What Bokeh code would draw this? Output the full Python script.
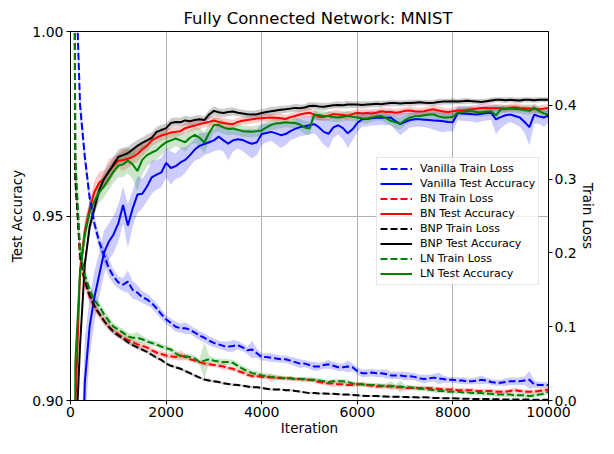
from bokeh.plotting import figure
from bokeh.models import (Range1d, LinearAxis, FixedTicker, PrintfTickFormatter,
                          Legend, LegendItem)
from bokeh.embed import file_html
from bokeh.resources import INLINE

# ---------------- data ----------------
iterations = list(range(0, 10001, 100))

x_ticks = [0, 2000, 4000, 6000, 8000, 10000]
acc_ticks = [0.90, 0.95, 1.00]
loss_ticks = [0.0, 0.1, 0.2, 0.3, 0.4]

# Test accuracy (left axis)
vanilla_acc = [
    0.10, 0.70, 0.86, 0.905, 0.920, 0.928, 0.934, 0.940, 0.943, 0.945,
    0.948, 0.953, 0.9474, 0.952, 0.9558, 0.9560, 0.9580, 0.9605, 0.9612, 0.9618,
    0.9644, 0.9630, 0.9635, 0.9645, 0.9652, 0.9665, 0.9680, 0.9690, 0.9695, 0.9700,
    0.9705, 0.9715, 0.9705, 0.9696, 0.9705, 0.9708, 0.9706, 0.9700, 0.9696, 0.9700,
    0.9722, 0.9725, 0.9728, 0.9724, 0.9719, 0.9722, 0.9730, 0.9736, 0.9741, 0.9743,
    0.9746, 0.9749, 0.9740, 0.9728, 0.9723, 0.9740, 0.9746, 0.9738, 0.9724, 0.9735,
    0.9752, 0.9762, 0.9763, 0.9765, 0.9766, 0.9767, 0.9766, 0.9767, 0.9757, 0.9749,
    0.9755, 0.9760, 0.9762, 0.9762, 0.9761, 0.9760, 0.9759, 0.9758, 0.9757, 0.9755,
    0.9754, 0.9779, 0.9778, 0.9777, 0.9776, 0.9775, 0.9777, 0.9779, 0.9780, 0.9762,
    0.9768, 0.9773, 0.9775, 0.9771, 0.9767, 0.9755, 0.9741, 0.9775, 0.9770, 0.9767,
    0.9772]
bn_acc = [
    0.10, 0.897, 0.935, 0.946, 0.952, 0.9565, 0.959, 0.960, 0.962, 0.9636,
    0.965, 0.9652, 0.9655, 0.966, 0.9668, 0.9680, 0.9690, 0.9705, 0.9712, 0.9718,
    0.9722, 0.9726, 0.9728, 0.9730, 0.9738, 0.9742, 0.9745, 0.9749, 0.9752, 0.9755,
    0.9759, 0.9755, 0.9752, 0.9750, 0.9749, 0.9755, 0.9758, 0.9760, 0.9762, 0.9764,
    0.9765, 0.9766, 0.9767, 0.9766, 0.9765, 0.9763, 0.9768, 0.9771, 0.9775, 0.9778,
    0.9780, 0.9774, 0.9769, 0.9768, 0.9772, 0.9776, 0.9775, 0.9774, 0.9772, 0.9776,
    0.9780, 0.9778, 0.9779, 0.9778, 0.9780, 0.9784, 0.9782, 0.9782, 0.9780, 0.9782,
    0.9785, 0.9786, 0.9784, 0.9783, 0.9784, 0.9787, 0.9789, 0.9786, 0.9783, 0.9782,
    0.9784, 0.9786, 0.9786, 0.9787, 0.9789, 0.9791, 0.9793, 0.9793, 0.9792, 0.9793,
    0.9792, 0.9791, 0.9794, 0.9795, 0.9793, 0.9792, 0.9791, 0.9790, 0.9789, 0.9791,
    0.9793]
bnp_acc = [
    0.10, 0.885, 0.915, 0.937, 0.947, 0.952, 0.957, 0.960, 0.962, 0.964,
    0.966, 0.9665, 0.967, 0.968, 0.9690, 0.9698, 0.9705, 0.9712, 0.9728, 0.9733,
    0.9738, 0.9752, 0.9755, 0.9754, 0.9759, 0.9757, 0.9760, 0.9762, 0.9760, 0.9775,
    0.9785, 0.9781, 0.9779, 0.9782, 0.9783, 0.9780, 0.9778, 0.9776, 0.9775, 0.9776,
    0.9779, 0.9782, 0.9784, 0.9786, 0.9788, 0.9789, 0.9791, 0.9793, 0.9792, 0.9794,
    0.9798, 0.9799, 0.9797, 0.9796, 0.9798, 0.9800, 0.9801, 0.9800, 0.9802, 0.9802,
    0.9802, 0.9801, 0.9802, 0.9803, 0.9804, 0.9803, 0.9805, 0.9806, 0.9806, 0.9805,
    0.9806, 0.9806, 0.9807, 0.9808, 0.9807, 0.9806, 0.9807, 0.9809, 0.9810, 0.9810,
    0.9811, 0.9810, 0.9811, 0.9812, 0.9811, 0.9810, 0.9809, 0.9811, 0.9813, 0.9815,
    0.9815, 0.9814, 0.9815, 0.9814, 0.9813, 0.9815, 0.9815, 0.9814, 0.9815, 0.9815,
    0.9815]
ln_acc = [
    0.10, 0.910, 0.935, 0.945, 0.951, 0.954, 0.9565, 0.958, 0.960, 0.962,
    0.9636, 0.9640, 0.9650, 0.9640, 0.9622, 0.9652, 0.9665, 0.9672, 0.9678, 0.9690,
    0.9700, 0.9705, 0.9710, 0.9705, 0.9700, 0.9712, 0.9720, 0.9712, 0.9699, 0.9725,
    0.9746, 0.9747, 0.9740, 0.9736, 0.9737, 0.9734, 0.9730, 0.9729, 0.9728, 0.9730,
    0.9732, 0.9740, 0.9747, 0.9751, 0.9752, 0.9754, 0.9753, 0.9752, 0.9748, 0.9740,
    0.9737, 0.9775, 0.9773, 0.9771, 0.9770, 0.9768, 0.9767, 0.9769, 0.9771, 0.9769,
    0.9767, 0.9765, 0.9764, 0.9767, 0.9770, 0.9771, 0.9765, 0.9758, 0.9754, 0.9750,
    0.9760, 0.9767, 0.9770, 0.9771, 0.9773, 0.9775, 0.9775, 0.9770, 0.9767, 0.9767,
    0.9769, 0.9780, 0.9782, 0.9784, 0.9784, 0.9782, 0.9781, 0.9783, 0.9784, 0.9773,
    0.9789, 0.9790, 0.9791, 0.9790, 0.9789, 0.9787, 0.9785, 0.9793, 0.9785, 0.9778,
    0.9776]

# spread of the accuracy runs (half width of the shaded band)
vanilla_acc_band = [
    0.0, 0.02, 0.02, 0.012, 0.008, 0.007, 0.006, 0.006, 0.005, 0.005,
    0.005, 0.005, 0.006, 0.005, 0.005, 0.004, 0.004, 0.0045, 0.004, 0.004,
    0.004, 0.0045, 0.0035, 0.004, 0.0035, 0.003, 0.003, 0.0035, 0.003, 0.003,
    0.003, 0.0035, 0.003, 0.0045, 0.003, 0.0025, 0.003, 0.0035, 0.004, 0.0035,
    0.003, 0.0025, 0.0025, 0.003, 0.0035, 0.003, 0.0025, 0.0025, 0.0025, 0.0025,
    0.0025, 0.0025, 0.003, 0.0035, 0.004, 0.0028, 0.0025, 0.003, 0.004, 0.003,
    0.0025, 0.002, 0.002, 0.002, 0.002, 0.002, 0.002, 0.002, 0.0025, 0.003,
    0.0025, 0.002, 0.002, 0.002, 0.002, 0.0022, 0.0025, 0.0028, 0.003, 0.0025,
    0.0025, 0.002, 0.002, 0.002, 0.002, 0.0022, 0.002, 0.002, 0.002, 0.004,
    0.003, 0.0025, 0.002, 0.0022, 0.0025, 0.003, 0.005, 0.0025, 0.002, 0.0025,
    0.002]
bn_acc_band = [
    0.0, 0.003, 0.003, 0.0025, 0.0025, 0.003, 0.003, 0.0025, 0.0035, 0.0025,
    0.002, 0.003, 0.0025, 0.002, 0.002, 0.0018, 0.0016, 0.0015, 0.0015, 0.0014,
    0.0014, 0.0013, 0.0013, 0.0012, 0.0014, 0.0013, 0.0012, 0.0015, 0.0012, 0.0013,
    0.0013, 0.0016, 0.0014, 0.0013, 0.0012, 0.0012, 0.0011, 0.0012, 0.0011, 0.0012,
    0.0011, 0.0012, 0.0010, 0.0011, 0.0012, 0.0011, 0.0010, 0.0011, 0.0010, 0.0011,
    0.0011, 0.0012, 0.0011, 0.0010, 0.0011, 0.0010, 0.0012, 0.0010, 0.0011, 0.0010,
    0.0010, 0.0011, 0.0010, 0.0011, 0.0010, 0.0010, 0.0011, 0.0010, 0.0010, 0.0011,
    0.0010, 0.0011, 0.0010, 0.0010, 0.0011, 0.0010, 0.0012, 0.0010, 0.0011, 0.0010,
    0.0010, 0.0011, 0.0010, 0.0010, 0.0011, 0.0010, 0.0010, 0.0011, 0.0010, 0.0010,
    0.0011, 0.0010, 0.0010, 0.0011, 0.0010, 0.0010, 0.0011, 0.0010, 0.0010, 0.0011,
    0.0010]
bnp_acc_band = [
    0.0, 0.002, 0.002, 0.002, 0.002, 0.002, 0.002, 0.002, 0.002, 0.002,
    0.002, 0.002, 0.0018, 0.0018, 0.0016, 0.0015, 0.0016, 0.0015, 0.0014, 0.0014,
    0.0013, 0.0013, 0.0012, 0.0012, 0.0013, 0.0012, 0.0012, 0.0012, 0.0011, 0.0012,
    0.0012, 0.0011, 0.0011, 0.0012, 0.0011, 0.0010, 0.0010, 0.0010, 0.0010, 0.0011,
    0.0011, 0.0010, 0.0012, 0.0010, 0.0011, 0.0010, 0.0010, 0.0011, 0.0010, 0.0009,
    0.0010, 0.0009, 0.0010, 0.0011, 0.0009, 0.0009, 0.0010, 0.0009, 0.0010, 0.0009,
    0.0009, 0.0010, 0.0009, 0.0008, 0.0009, 0.0009, 0.0008, 0.0009, 0.0008, 0.0008,
    0.0008, 0.0009, 0.0008, 0.0008, 0.0007, 0.0008, 0.0008, 0.0009, 0.0008, 0.0008,
    0.0008, 0.0007, 0.0008, 0.0008, 0.0007, 0.0007, 0.0008, 0.0007, 0.0008, 0.0007,
    0.0007, 0.0008, 0.0007, 0.0007, 0.0008, 0.0007, 0.0007, 0.0008, 0.0007, 0.0007,
    0.0007]
ln_acc_band = [
    0.0, 0.004, 0.004, 0.0035, 0.003, 0.003, 0.003, 0.003, 0.003, 0.003,
    0.003, 0.0035, 0.0035, 0.004, 0.0055, 0.004, 0.003, 0.0028, 0.0025, 0.0025,
    0.0022, 0.0025, 0.002, 0.0022, 0.0025, 0.002, 0.0022, 0.0025, 0.003, 0.0025,
    0.002, 0.0018, 0.0018, 0.0017, 0.0016, 0.0016, 0.0015, 0.0015, 0.0015, 0.0015,
    0.0015, 0.0014, 0.0014, 0.0015, 0.0014, 0.0013, 0.0014, 0.0014, 0.0015, 0.0018,
    0.0018, 0.0014, 0.0013, 0.0012, 0.0013, 0.0013, 0.0012, 0.0012, 0.0013, 0.0012,
    0.0012, 0.0013, 0.0013, 0.0012, 0.0012, 0.0012, 0.0013, 0.0015, 0.0016, 0.0016,
    0.0014, 0.0012, 0.0012, 0.0011, 0.0012, 0.0011, 0.0012, 0.0012, 0.0013, 0.0012,
    0.0012, 0.0011, 0.0011, 0.0012, 0.0011, 0.0011, 0.0012, 0.0011, 0.0012, 0.0014,
    0.0011, 0.0011, 0.0010, 0.0011, 0.0011, 0.0012, 0.0011, 0.0012, 0.0011, 0.0012,
    0.0012]

# Train loss (right axis)
vanilla_loss = [
    2.30, 0.60, 0.40, 0.33, 0.275, 0.240, 0.215, 0.197, 0.180, 0.168,
    0.160, 0.157, 0.161, 0.150, 0.146, 0.140, 0.137, 0.132, 0.125, 0.117,
    0.110, 0.105, 0.100, 0.098, 0.098, 0.096, 0.092, 0.088, 0.085, 0.081,
    0.078, 0.076, 0.074, 0.073, 0.074, 0.075, 0.072, 0.068, 0.069, 0.064,
    0.059, 0.059, 0.058, 0.057, 0.056, 0.056, 0.054, 0.052, 0.050, 0.050,
    0.048, 0.046, 0.046, 0.048, 0.049, 0.047, 0.045, 0.045, 0.046, 0.045,
    0.040, 0.037, 0.037, 0.038, 0.037, 0.037, 0.036, 0.034, 0.034, 0.034,
    0.033, 0.033, 0.032, 0.030, 0.029, 0.030, 0.031, 0.030, 0.029, 0.028,
    0.028, 0.027, 0.027, 0.026, 0.026, 0.027, 0.028, 0.027, 0.025, 0.024,
    0.024, 0.025, 0.026, 0.026, 0.026, 0.027, 0.028, 0.022, 0.021, 0.021,
    0.021]
bn_loss = [
    2.30, 0.31, 0.19, 0.160, 0.140, 0.127, 0.117, 0.108, 0.100, 0.094,
    0.090, 0.086, 0.082, 0.079, 0.076, 0.074, 0.072, 0.068, 0.065, 0.063,
    0.061, 0.060, 0.059, 0.061, 0.059, 0.056, 0.054, 0.052, 0.050, 0.049,
    0.048, 0.047, 0.046, 0.044, 0.043, 0.040, 0.038, 0.035, 0.033, 0.033,
    0.032, 0.032, 0.031, 0.031, 0.030, 0.030, 0.030, 0.029, 0.029, 0.028,
    0.028, 0.027, 0.025, 0.024, 0.023, 0.023, 0.022, 0.022, 0.021, 0.021,
    0.022, 0.022, 0.021, 0.020, 0.019, 0.019, 0.019, 0.019, 0.018, 0.018,
    0.017, 0.017, 0.017, 0.017, 0.017, 0.017, 0.016, 0.016, 0.015, 0.015,
    0.015, 0.014, 0.014, 0.014, 0.014, 0.013, 0.013, 0.013, 0.013, 0.012,
    0.012, 0.012, 0.013, 0.014, 0.013, 0.012, 0.012, 0.012, 0.013, 0.014,
    0.015]
bnp_loss = [
    2.30, 0.30, 0.200, 0.163, 0.143, 0.128, 0.118, 0.108, 0.100, 0.093,
    0.088, 0.084, 0.079, 0.075, 0.072, 0.069, 0.066, 0.062, 0.058, 0.055,
    0.050, 0.047, 0.045, 0.043, 0.040, 0.037, 0.034, 0.031, 0.0285, 0.027,
    0.026, 0.025, 0.0235, 0.0225, 0.0215, 0.021, 0.020, 0.019, 0.018, 0.018,
    0.017, 0.016, 0.015, 0.015, 0.015, 0.014, 0.014, 0.013, 0.012, 0.011,
    0.010, 0.010, 0.0095, 0.0095, 0.009, 0.009, 0.0085, 0.008, 0.008, 0.0075,
    0.007, 0.0065, 0.006, 0.006, 0.006, 0.0055, 0.0055, 0.005, 0.005, 0.005,
    0.0048, 0.0045, 0.0045, 0.004, 0.0045, 0.004, 0.0035, 0.0035, 0.003, 0.003,
    0.003, 0.0028, 0.0025, 0.0025, 0.0022, 0.002, 0.002, 0.002, 0.0018, 0.0016,
    0.0015, 0.0015, 0.0013, 0.0013, 0.0012, 0.0012, 0.0012, 0.0011, 0.0011, 0.001,
    0.001]
ln_loss = [
    2.30, 0.33, 0.205, 0.170, 0.150, 0.136, 0.128, 0.117, 0.108, 0.100,
    0.096, 0.092, 0.087, 0.085, 0.085, 0.083, 0.080, 0.078, 0.076, 0.073,
    0.071, 0.069, 0.064, 0.060, 0.060, 0.059, 0.057, 0.052, 0.054, 0.056,
    0.054, 0.053, 0.052, 0.052, 0.051, 0.047, 0.043, 0.040, 0.037, 0.036,
    0.034, 0.033, 0.032, 0.031, 0.031, 0.030, 0.030, 0.029, 0.029, 0.029,
    0.028, 0.028, 0.027, 0.026, 0.025, 0.026, 0.026, 0.026, 0.025, 0.023,
    0.022, 0.022, 0.021, 0.021, 0.021, 0.020, 0.020, 0.020, 0.019, 0.019,
    0.018, 0.018, 0.017, 0.016, 0.016, 0.015, 0.014, 0.013, 0.013, 0.012,
    0.012, 0.012, 0.011, 0.011, 0.010, 0.010, 0.010, 0.009, 0.009, 0.008,
    0.008, 0.008, 0.008, 0.007, 0.007, 0.007, 0.006, 0.007, 0.008, 0.009,
    0.012]

vanilla_loss_band = [
    0.0, 0.03, 0.02, 0.015, 0.012, 0.010, 0.010, 0.010, 0.012, 0.010,
    0.008, 0.009, 0.015, 0.012, 0.010, 0.008, 0.008, 0.007, 0.007, 0.007,
    0.006, 0.006, 0.007, 0.006, 0.008, 0.006, 0.006, 0.006, 0.006, 0.006,
    0.006, 0.005, 0.006, 0.007, 0.008, 0.006, 0.005, 0.005, 0.012, 0.006,
    0.005, 0.005, 0.006, 0.005, 0.005, 0.005, 0.005, 0.006, 0.006, 0.005,
    0.005, 0.006, 0.005, 0.005, 0.006, 0.005, 0.005, 0.005, 0.008, 0.005,
    0.005, 0.005, 0.005, 0.005, 0.005, 0.005, 0.006, 0.005, 0.005, 0.005,
    0.006, 0.005, 0.005, 0.005, 0.006, 0.005, 0.005, 0.008, 0.005, 0.004,
    0.004, 0.004, 0.005, 0.004, 0.004, 0.005, 0.006, 0.004, 0.004, 0.004,
    0.004, 0.005, 0.005, 0.005, 0.005, 0.006, 0.012, 0.005, 0.004, 0.004,
    0.004]
bn_loss_band = [
    0.0, 0.02, 0.012, 0.010, 0.008, 0.007, 0.006, 0.006, 0.006, 0.005,
    0.005, 0.005, 0.005, 0.004, 0.004, 0.004, 0.004, 0.004, 0.004, 0.004,
    0.004, 0.004, 0.004, 0.007, 0.004, 0.003, 0.003, 0.003, 0.003, 0.003,
    0.003, 0.003, 0.005, 0.003, 0.003, 0.003, 0.003, 0.003, 0.003, 0.003,
    0.003, 0.003, 0.006, 0.003, 0.003, 0.003, 0.003, 0.003, 0.003, 0.003,
    0.003, 0.003, 0.003, 0.003, 0.003, 0.005, 0.003, 0.003, 0.003, 0.003,
    0.003, 0.003, 0.003, 0.003, 0.003, 0.003, 0.003, 0.003, 0.003, 0.003,
    0.003, 0.003, 0.003, 0.003, 0.003, 0.003, 0.003, 0.003, 0.003, 0.003,
    0.003, 0.003, 0.003, 0.003, 0.003, 0.003, 0.003, 0.003, 0.003, 0.003,
    0.003, 0.003, 0.003, 0.003, 0.003, 0.003, 0.003, 0.003, 0.003, 0.003,
    0.003]
bnp_loss_band = [
    0.0, 0.015, 0.008, 0.006, 0.005, 0.004, 0.004, 0.003, 0.003, 0.003,
    0.003, 0.003, 0.003, 0.003, 0.003, 0.0025, 0.0025, 0.0025, 0.0025, 0.002,
    0.002, 0.002, 0.002, 0.002, 0.002, 0.002, 0.002, 0.002, 0.002, 0.002,
    0.0018, 0.0018, 0.0017, 0.0017, 0.0016, 0.0016, 0.0015, 0.0015, 0.0015, 0.0015,
    0.0015, 0.0014, 0.0014, 0.0015, 0.0014, 0.0014, 0.0014, 0.0013, 0.0014, 0.0013,
    0.0013, 0.0013, 0.0014, 0.0013, 0.0013, 0.0013, 0.0012, 0.0013, 0.0012, 0.0012,
    0.0012, 0.0012, 0.0012, 0.0012, 0.0011, 0.0012, 0.0011, 0.0011, 0.0012, 0.0011,
    0.0011, 0.0011, 0.0011, 0.0011, 0.0011, 0.0011, 0.0011, 0.0010, 0.0011, 0.0010,
    0.0010, 0.0010, 0.0010, 0.0010, 0.0010, 0.0010, 0.0010, 0.0010, 0.0010, 0.0010,
    0.0010, 0.0010, 0.0010, 0.0010, 0.0010, 0.0010, 0.0010, 0.0010, 0.0010, 0.0010,
    0.0010]
ln_loss_band = [
    0.0, 0.02, 0.012, 0.010, 0.008, 0.007, 0.006, 0.006, 0.006, 0.005,
    0.005, 0.005, 0.005, 0.005, 0.008, 0.005, 0.004, 0.004, 0.004, 0.004,
    0.004, 0.004, 0.004, 0.004, 0.004, 0.004, 0.004, 0.004, 0.025, 0.005,
    0.004, 0.004, 0.004, 0.004, 0.004, 0.004, 0.004, 0.004, 0.004, 0.004,
    0.004, 0.004, 0.003, 0.004, 0.003, 0.003, 0.003, 0.003, 0.003, 0.003,
    0.003, 0.003, 0.003, 0.003, 0.003, 0.003, 0.003, 0.003, 0.003, 0.003,
    0.003, 0.003, 0.003, 0.003, 0.003, 0.003, 0.003, 0.006, 0.003, 0.008,
    0.003, 0.003, 0.003, 0.003, 0.003, 0.003, 0.003, 0.003, 0.003, 0.003,
    0.003, 0.003, 0.003, 0.003, 0.003, 0.003, 0.003, 0.003, 0.003, 0.003,
    0.003, 0.003, 0.003, 0.003, 0.003, 0.003, 0.003, 0.003, 0.003, 0.003,
    0.003]

series_names = ["Vanilla", "BN", "BNP", "LN"]
series_colors = ["#0000ff", "#ff0000", "#000000", "#008000"]
acc_series = [vanilla_acc, bn_acc, bnp_acc, ln_acc]
acc_bands = [vanilla_acc_band, bn_acc_band, bnp_acc_band, ln_acc_band]
loss_series = [vanilla_loss, bn_loss, bnp_loss, ln_loss]
loss_bands = [vanilla_loss_band, bn_loss_band, bnp_loss_band, ln_loss_band]

FONT = "DejaVu Sans"

# ---------------- figure ----------------
p = figure(width=598, height=438, output_backend="svg", toolbar_location=None,
           x_range=Range1d(0, 10000), y_range=Range1d(0.90, 1.00),
           title="Fully Connected Network: MNIST",
           min_border_left=70, min_border_right=0, min_border_top=31,
           min_border_bottom=0)
p.extra_y_ranges = {"loss": Range1d(0.0, 0.5)}

p.background_fill_color = "white"
p.border_fill_color = "white"
p.outline_line_color = "black"
p.outline_line_width = 1

p.title.text_font = FONT
p.title.text_font_size = "16.5px"
p.title.text_font_style = "normal"
p.title.text_color = "black"
p.title.align = "left"
p.title.offset = 113
p.title.standoff = 8

def style_axis(ax):
    ax.axis_line_color = "black"
    ax.major_tick_line_color = "black"
    ax.major_tick_out = 4
    ax.major_tick_in = 0
    ax.minor_tick_out = 0
    ax.minor_tick_in = 0
    ax.major_label_text_font = FONT
    ax.major_label_text_font_size = "14px"
    ax.major_label_text_color = "black"
    ax.major_label_standoff = 2
    ax.axis_label_text_font = FONT
    ax.axis_label_text_font_size = "13.5px"
    ax.axis_label_text_font_style = "normal"
    ax.axis_label_text_color = "black"
    ax.axis_label_standoff = 0

p.xaxis.ticker = FixedTicker(ticks=x_ticks)
p.xaxis.formatter = PrintfTickFormatter(format="%d")
p.xaxis.axis_label = "Iteration"
p.yaxis.ticker = FixedTicker(ticks=acc_ticks)
p.yaxis.formatter = PrintfTickFormatter(format="%.2f")
p.yaxis.axis_label = "Test Accuracy"

loss_axis = LinearAxis(y_range_name="loss", axis_label="Train Loss",
                       ticker=FixedTicker(ticks=loss_ticks),
                       formatter=PrintfTickFormatter(format="%.1f"))
p.add_layout(loss_axis, "right")

for ax in [p.xaxis[0], p.yaxis[0], loss_axis]:
    style_axis(ax)
p.yaxis[0].major_label_standoff = 3
p.yaxis[0].axis_label_standoff = 4

p.xgrid.ticker = FixedTicker(ticks=x_ticks)
p.ygrid.ticker = FixedTicker(ticks=acc_ticks)
for g in [p.xgrid[0], p.ygrid[0]]:
    g.grid_line_color = "#b0b0b0"
    g.grid_line_width = 1

# bands
for vals, band, col in zip(acc_series, acc_bands, series_colors):
    lo = [v - b for v, b in zip(vals, band)]
    hi = [v + b for v, b in zip(vals, band)]
    p.varea(x=iterations, y1=lo, y2=hi, fill_color=col, fill_alpha=0.2)
for vals, band, col in zip(loss_series, loss_bands, series_colors):
    lo = [v - b for v, b in zip(vals, band)]
    hi = [v + b for v, b in zip(vals, band)]
    p.varea(x=iterations, y1=lo, y2=hi, fill_color=col, fill_alpha=0.2,
            y_range_name="loss")

acc_renderers = []
for vals, col in zip(acc_series, series_colors):
    acc_renderers.append(p.line(iterations, vals, line_color=col, line_width=2))
loss_renderers = []
for vals, col in zip(loss_series, series_colors):
    loss_renderers.append(p.line(iterations, vals, line_color=col, line_width=2,
                                 line_dash="7 3", y_range_name="loss"))

items = []
for name, rl, ra in zip(series_names, loss_renderers, acc_renderers):
    items.append(LegendItem(label=name + " Train Loss", renderers=[rl]))
    items.append(LegendItem(label=name + " Test Accuracy", renderers=[ra]))

legend = Legend(items=items, location=(306, 115))
legend.margin = 0
legend.padding = 3
legend.spacing = 0
legend.label_height = 15
legend.glyph_height = 15
legend.glyph_width = 32
legend.label_standoff = 8
legend.label_text_font = FONT
legend.label_text_font_size = "11px"
legend.label_text_color = "black"
legend.border_line_color = "#cccccc"
legend.border_line_width = 1
legend.background_fill_alpha = 0.8
p.add_layout(legend)

open("out.html", "w").write(file_html(p, INLINE))
